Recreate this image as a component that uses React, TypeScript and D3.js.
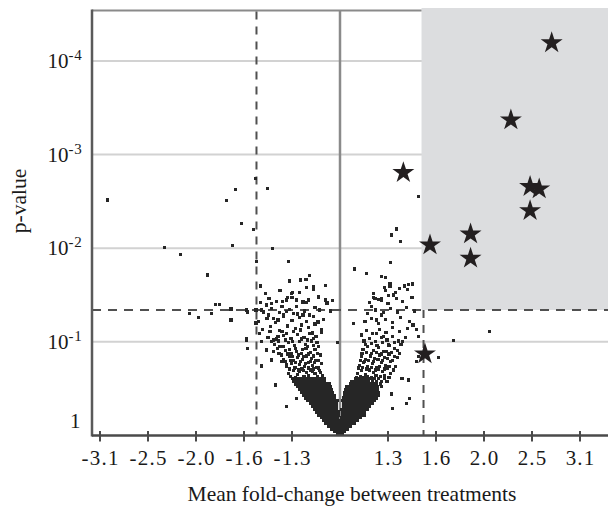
import React from "react";
import * as d3 from "d3";

// x positions are in "tick steps" of the fold-change axis (labels below)
const xTickPos = [-5, -4, -3, -2, -1, 1, 2, 3, 4, 5];
const xTickLabels = ["-3.1", "-2.5", "-2.0", "-1.6", "-1.3", "1.3", "1.6", "2.0", "2.5", "3.1"];
// y is -log10(p)
const yTickExp = [0, 1, 2, 3, 4];
const foldThreshold = 1.74;
const pThresholdNegLog = 1.341;

const starFold = [4.41, 3.56, 1.32, 3.96, 4.15, 3.96, 2.72, 1.875, 2.72, 1.77];
const starNegLogP = [4.193, 3.37, 2.807, 2.658, 2.633, 2.401, 2.152, 2.035, 1.893, 0.871];

const sparseFold = [
  -4.84, -2.36, -2.17, -2.06, -1.8, -1.76, -1.51, -3.66, -3.32, -2.24, -1.41, -2.76, -1.74, -1.08, -1.66,
  -0.83, -0.63, -0.56, -0.71, -0.99, -1.1, -3.13, -2.94, -2.68, -2.6, -2.51, -2.27, -2.27, -1.93, -1.94,
  -1.92, -1.63, -1.35, -1.11, -0.9, -0.65, -0.31,
  1.63, 1.18, 1.08, 1.26, 1.06, 0.31, 0.56, 0.87, 0.94, 1.04, 1.04, 0.92, 1.24, 1.35, 1.42, 1.51, 1.01,
  1.11, 0.69, 0.87, 3.11, 2.36, 2.05, 1.6, 1.63, 1.63, 1.6, 1.42, 1.29, 1.44, 1.39, 1.1, 1.08,
  -1.94, -1.75, -1.75, -1.63, -1.53, -1.42, -1.32, -1.21, -1.11, -1.01, -1.49, -1.39, -1.29, -1.18, -1.11,
  -0.97, -1.67, -1.63, -1.46, -1.39, -1.29, -1.21, -1.11, -0.97, -1.94, -1.53, -1.39, -1.25, -1.42, -1.21,
  -1.11, -0.9, -0.77, -0.88, -0.77, -0.63, -0.42, -0.27, -0.46, -0.38, -0.58, -0.83, -0.05,
  0.28, 0.45, 0.66, 0.87, 0.73, 0.87, 0.76, 0.9, 0.76,
];
const sparseNegLogP = [
  2.516, 2.509, 2.628, 2.267, 2.196, 2.748, 2.641, 2.009, 1.934, 2.028, 2.0, 1.715, 1.857, 1.862, 1.597,
  1.661, 1.709, 1.59, 1.669, 1.528, 1.472, 1.301, 1.263, 1.301, 1.402, 1.402, 1.351, 1.234, 1.319, 1.038,
  0.932, 0.743, 0.54, 0.308, 0.397, 1.448, 1.448,
  2.551, 2.206, 2.142, 2.071, 1.846, 1.779, 1.733, 1.697, 1.686, 1.626, 1.597, 1.583, 1.573, 1.597, 1.611,
  1.619, 1.494, 1.501, 1.472, 1.466, 1.109, 1.013, 0.835, 1.135, 1.058, 0.842, 0.788, 0.593, 0.611, 0.397,
  0.344, 0.291, 0.443,
  1.341, 1.341, 1.202, 1.341, 1.394, 1.412, 1.429, 1.376, 1.448, 1.519, 1.287, 1.252, 1.234, 1.287, 1.323,
  1.306, 1.092, 1.002, 1.109, 1.02, 1.056, 1.109, 1.092, 1.109, 1.02, 0.913, 0.895, 0.949, 0.807, 0.788,
  0.753, 1.448, 1.426, 1.298, 1.287, 1.287, 1.341, 1.416, 1.213, 1.127, 1.095, 1.127, 0.996,
  1.199, 1.074, 1.376, 1.448, 1.466, 1.287, 1.234, 1.056, 1.092,
];

// dense core of the volcano, listed row by row
const coreLevels = [
  0.01, 0.04, 0.07, 0.1, 0.13, 0.16, 0.19, 0.22, 0.25, 0.28, 0.31, 0.34, 0.37, 0.4, 0.43, 0.46, 0.49, 0.52,
  0.55, 0.58, 0.61,
];
const coreFoldRows = [
  [-0.06, -0.02, 0.02, 0.06],
  [-0.12, -0.08, -0.03, 0.02, 0.06, 0.1],
  [-0.18, -0.13, -0.08, -0.03, 0.02, 0.07, 0.12, 0.16],
  [-0.24, -0.19, -0.14, -0.09, -0.04, 0.01, 0.06, 0.11, 0.16, 0.21],
  [-0.29, -0.24, -0.19, -0.14, -0.09, -0.04, 0.01, 0.06, 0.11, 0.16, 0.21, 0.26, 0.3],
  [-0.34, -0.29, -0.24, -0.19, -0.14, -0.09, -0.04, 0.02, 0.07, 0.12, 0.17, 0.22, 0.27, 0.32, 0.37],
  [-0.39, -0.34, -0.29, -0.24, -0.19, -0.14, -0.09, -0.05, 0.03, 0.08, 0.13, 0.18, 0.23, 0.28, 0.33, 0.38, 0.43],
  [-0.44, -0.39, -0.34, -0.29, -0.24, -0.19, -0.14, -0.09, -0.04, 0.05, 0.1, 0.15, 0.2, 0.25, 0.3, 0.35, 0.4, 0.45, 0.5],
  [-0.48, -0.43, -0.38, -0.33, -0.28, -0.23, -0.18, -0.13, -0.08, -0.03, 0.06, 0.11, 0.16, 0.21, 0.26, 0.31, 0.36, 0.41, 0.46, 0.51],
  [-0.53, -0.48, -0.43, -0.38, -0.33, -0.28, -0.23, -0.18, -0.13, -0.08, 0.04, 0.09, 0.14, 0.19, 0.24, 0.29, 0.34, 0.39, 0.44, 0.49, 0.54, 0.58],
  [-0.58, -0.53, -0.48, -0.43, -0.38, -0.33, -0.28, -0.23, -0.18, -0.13, -0.08, 0.07, 0.12, 0.17, 0.22, 0.27, 0.32, 0.37, 0.42, 0.47, 0.52, 0.57, 0.62],
  [-0.62, -0.57, -0.52, -0.47, -0.42, -0.37, -0.32, -0.27, -0.22, -0.17, -0.12, -0.07, 0.08, 0.13, 0.18, 0.23, 0.28, 0.33, 0.38, 0.43, 0.48, 0.53, 0.58, 0.63, 0.68],
  [-0.67, -0.62, -0.57, -0.52, -0.47, -0.42, -0.37, -0.32, -0.27, -0.22, -0.17, -0.12, -0.06, 0.06, 0.11, 0.16, 0.21, 0.26, 0.31, 0.36, 0.41, 0.46, 0.51, 0.56, 0.61, 0.66, 0.72],
  [-0.71, -0.66, -0.61, -0.56, -0.51, -0.46, -0.41, -0.36, -0.31, -0.26, -0.21, -0.16, -0.11, 0.07, 0.12, 0.17, 0.22, 0.27, 0.32, 0.37, 0.42, 0.47, 0.52, 0.57, 0.62, 0.67, 0.72, 0.76],
  [-0.76, -0.71, -0.66, -0.61, -0.56, -0.51, -0.46, -0.41, -0.36, -0.31, -0.26, -0.21, -0.16, -0.12, 0.09, 0.14, 0.19, 0.24, 0.29, 0.34, 0.39, 0.44, 0.49, 0.54, 0.59, 0.64, 0.69, 0.74, 0.79],
  [-0.8, -0.75, -0.7, -0.65, -0.6, -0.55, -0.5, -0.45, -0.4, -0.35, -0.3, -0.25, -0.2, -0.15, 0.1, 0.15, 0.2, 0.25, 0.3, 0.35, 0.4, 0.45, 0.5, 0.55, 0.6, 0.65, 0.7, 0.75, 0.81],
  [-0.84, -0.79, -0.74, -0.69, -0.64, -0.59, -0.54, -0.49, -0.44, -0.39, -0.34, -0.29, -0.24, -0.18, 0.12, 0.17, 0.22, 0.27, 0.32, 0.37, 0.42, 0.47, 0.52, 0.57, 0.62, 0.67, 0.72, 0.78],
  [-0.88, -0.83, -0.78, -0.73, -0.68, -0.63, -0.58, -0.53, -0.48, -0.43, -0.38, -0.33, -0.28, -0.21, 0.14, 0.19, 0.24, 0.29, 0.34, 0.39, 0.44, 0.49, 0.54, 0.59, 0.64, 0.7, 0.77, 0.86],
  [-0.92, -0.87, -0.82, -0.77, -0.72, -0.67, -0.62, -0.57, -0.52, -0.47, -0.42, -0.37, -0.32, -0.27, -0.23, 0.22, 0.27, 0.32, 0.37, 0.42, 0.47, 0.52, 0.57, 0.62, 0.68, 0.75, 0.84],
  [-0.96, -0.91, -0.86, -0.81, -0.76, -0.71, -0.66, -0.61, -0.56, -0.51, -0.46, -0.41, -0.36, -0.32, 0.24, 0.29, 0.34, 0.39, 0.44, 0.49, 0.54, 0.6, 0.67, 0.76, 0.87, 0.98],
  [-0.99, -0.94, -0.89, -0.84, -0.79, -0.74, -0.69, -0.64, -0.59, -0.54, -0.49, -0.44, -0.39, -0.33, 0.33, 0.38, 0.43, 0.48, 0.53, 0.58, 0.64, 0.71, 0.8, 0.93],
];

// looser scatter on the two arms of the volcano
const armFold = [
  -1.08, -0.97, -0.88, -0.79, -0.7, -0.61, -0.52, -0.43, -0.36,
  -1.12, -1.01, -0.92, -0.84, -0.74, -0.66, -0.57, -0.48, -0.39,
  -1.18, -1.05, -0.97, -0.88, -0.78, -0.69, -0.6, -0.5, -0.41,
  -1.27, -1.13, -1.02, -0.9, -0.81, -0.71, -0.62, -0.52, -0.44,
  -1.36, -1.22, -1.08, -0.95, -0.84, -0.72, -0.6, -0.48,
  -1.5, -1.33, -1.17, -1.02, -0.88, -0.75, -0.63, -0.5, -0.38,
  -1.62, -1.44, -1.26, -1.1, -0.93, -0.8, -0.66, -0.52,
  -1.7, -1.52, -1.35, -1.18, -1.0, -0.85, -0.7, -0.55, -0.35,
  -1.6, -1.42, -1.26, -1.05, -0.9, -0.74, -0.52, -0.2,
  -1.66, -1.48, -1.2, -1.0, -0.7, -0.45, -0.15,
  -1.55, -1.25, -0.85, -0.55, -0.3, -1.05, -0.7,
  -1.03, -0.93, -0.84, -0.75, -0.66, -0.57, -0.47, -0.4,
  -1.06, -0.95, -0.86, -0.76, -0.65, -0.55, -0.45,
  -1.14, -1.03, -0.93, -0.82, -0.72, -0.62, -0.53, -0.44,
  -1.22, -1.1, -0.99, -0.86, -0.76, -0.66, -0.56, -0.47,
  -1.3, -1.17, -1.05, -0.93, -0.78, -0.67, -0.55,
  -1.42, -1.28, -1.13, -0.99, -0.8, -0.68, -0.56,
  0.36, 0.45, 0.53, 0.62, 0.7, 0.79, 0.88, 0.98, 1.06,
  0.4, 0.49, 0.58, 0.67, 0.76, 0.86, 0.95, 1.06, 1.16,
  0.44, 0.53, 0.63, 0.72, 0.82, 0.92, 1.02, 1.13, 1.24,
  0.48, 0.58, 0.69, 0.8, 0.91, 1.02, 1.14, 1.27,
  0.5, 0.62, 0.74, 0.86, 0.98, 1.1, 1.22, 1.36,
  0.55, 0.68, 0.82, 0.96, 1.1, 1.24, 1.4, 1.52,
  0.52, 0.66, 0.8, 0.95, 1.1, 1.26, 1.45,
  0.58, 0.74, 0.9, 1.06, 1.2, 1.38, 1.55,
  0.62, 0.8, 1.0, 1.18, 1.3, 1.5,
  0.7, 0.95, 1.15, 1.4,
  0.35, 0.42, 0.5, 0.58, 0.66, 0.75, 0.84, 0.93, 1.02,
  0.38, 0.47, 0.56, 0.65, 0.74, 0.83, 0.92, 1.02, 1.12,
  0.42, 0.51, 0.6, 0.7, 0.79, 0.89, 0.99, 1.09, 1.2,
  0.46, 0.56, 0.66, 0.76, 0.87, 0.97, 1.08, 1.19,
  0.53, 0.65, 0.77, 0.89, 1.01, 1.14, 1.3,
];
const armNegLogP = [
  0.66, 0.69, 0.65, 0.71, 0.67, 0.7, 0.66, 0.69, 0.64,
  0.74, 0.77, 0.73, 0.76, 0.74, 0.78, 0.75, 0.73, 0.77,
  0.81, 0.84, 0.8, 0.83, 0.81, 0.85, 0.82, 0.8, 0.86,
  0.88, 0.91, 0.87, 0.9, 0.88, 0.93, 0.89, 0.92, 0.95,
  0.97, 0.95, 0.99, 0.96, 1.0, 0.97, 1.01, 0.99,
  1.05, 1.03, 1.07, 1.04, 1.08, 1.05, 1.09, 1.06, 1.1,
  1.13, 1.16, 1.12, 1.17, 1.14, 1.18, 1.15, 1.19,
  1.22, 1.25, 1.21, 1.27, 1.23, 1.26, 1.22, 1.27, 1.24,
  1.32, 1.36, 1.31, 1.35, 1.38, 1.33, 1.37, 1.33,
  1.42, 1.46, 1.43, 1.47, 1.42, 1.48, 1.44,
  1.52, 1.55, 1.53, 1.56, 1.6, 1.65, 1.58,
  0.63, 0.62, 0.68, 0.63, 0.64, 0.68, 0.63, 0.67,
  0.71, 0.72, 0.7, 0.69, 0.72, 0.71, 0.72,
  0.79, 0.8, 0.78, 0.79, 0.77, 0.79, 0.78, 0.8,
  0.86, 0.87, 0.84, 0.86, 0.84, 0.87, 0.85, 0.88,
  0.93, 0.95, 0.92, 0.93, 0.92, 0.95, 0.96,
  1.0, 1.01, 1.02, 1.0, 1.03, 1.02, 1.04,
  0.66, 0.69, 0.65, 0.7, 0.67, 0.71, 0.68, 0.72, 0.66,
  0.75, 0.78, 0.74, 0.77, 0.73, 0.78, 0.75, 0.79, 0.74,
  0.84, 0.81, 0.85, 0.82, 0.86, 0.83, 0.87, 0.84, 0.88,
  0.92, 0.95, 0.91, 0.94, 0.9, 0.96, 0.93, 0.97,
  1.01, 1.04, 1.0, 1.05, 1.02, 1.06, 1.01, 1.05,
  1.12, 1.09, 1.13, 1.1, 1.15, 1.11, 1.14, 1.18,
  1.22, 1.25, 1.2, 1.24, 1.21, 1.26, 1.22,
  1.3, 1.34, 1.31, 1.36, 1.32, 1.37, 1.33,
  1.42, 1.45, 1.41, 1.46, 1.43, 1.47,
  1.52, 1.55, 1.53, 1.56,
  0.62, 0.63, 0.62, 0.63, 0.62, 0.64, 0.63, 0.64, 0.62,
  0.72, 0.73, 0.71, 0.73, 0.7, 0.74, 0.71, 0.74, 0.7,
  0.8, 0.79, 0.8, 0.79, 0.81, 0.8, 0.82, 0.8, 0.83,
  0.88, 0.89, 0.88, 0.89, 0.87, 0.9, 0.89, 0.91,
  0.97, 0.98, 0.96, 0.99, 0.97, 0.99, 1.0,
];

const W = 608;
const H = 508;
const FONT = "'Liberation Serif', 'Times New Roman', serif";

export default function App() {
  const left = 92;
  const right = 608;
  const top = 9.5;
  const bottom = 435.5;
  const x = d3.scaleLinear().domain([-5.1667, 5.5833]).range([left, right]);
  const y = d3.scaleLinear().domain([0, 4.55]).range([bottom, top]);

  const dots: [number, number][] = [];
  coreLevels.forEach((lv, i) => coreFoldRows[i].forEach((u) => dots.push([u, lv])));
  armFold.forEach((u, i) => dots.push([u, armNegLogP[i]]));
  sparseFold.forEach((u, i) => dots.push([u, sparseNegLogP[i]]));

  const star = d3.symbol().type(d3.symbolStar).size(150)();
  const xr = x(foldThreshold);
  const xl = x(-foldThreshold);
  const yt = y(pThresholdNegLog);
  const ds = 3.2;

  return (
    <div style={{ position: "fixed", left: 0, top: 0 }}>
      <svg width={W} height={H} style={{ display: "block", background: "#fff" }}>
        {yTickExp.filter((e) => e > 0).map((e) => (
          <line key={e} x1={left} x2={right} y1={y(e)} y2={y(e)} stroke="#d2d2d2" strokeWidth={2} />
        ))}
        <rect x={xr - 2} y={top - 1.5} width={right - xr + 2} height={yt - top + 1.5} fill="#dcdddf" />
        <line x1={left} x2={xr - 2} y1={top + 1} y2={top + 1} stroke="#8a8a8a" strokeWidth={2} />
        <line x1={x(0)} x2={x(0)} y1={top + 1} y2={bottom} stroke="#8a8a8a" strokeWidth={2.5} />
        <line x1={xl} x2={xl} y1={top + 2} y2={bottom} stroke="#505050" strokeWidth={2} strokeDasharray="8,7" />
        <line x1={xr} x2={xr} y1={yt} y2={bottom} stroke="#505050" strokeWidth={2} strokeDasharray="8,7" />
        <line x1={left} x2={right} y1={yt} y2={yt} stroke="#505050" strokeWidth={2} strokeDasharray="9,7" />
        <g fill="#262626" shapeRendering="crispEdges">
          {dots.map(([u, v], i) => (
            <rect key={i} x={x(u) - ds / 2} y={y(v) - ds / 2} width={ds} height={ds} />
          ))}
        </g>
        <g fill="#231f20">
          {starFold.map((u, i) => (
            <path key={i} d={star || ""} transform={`translate(${x(u)},${y(starNegLogP[i])})`} />
          ))}
        </g>
        <line x1={left} x2={left} y1={top} y2={bottom + 1} stroke="#5a5a5a" strokeWidth={2.5} />
        <line x1={left} x2={right} y1={bottom} y2={bottom} stroke="#4a4a4a" strokeWidth={2.5} />
        {xTickPos.map((t, i) => (
          <g key={t}>
            <line x1={x(t)} x2={x(t)} y1={bottom - 4.5} y2={bottom + 6} stroke="#4a4a4a" strokeWidth={2} />
            <text x={x(t) + 0.6} y={465} textAnchor="middle" fontFamily={FONT} fontSize={21} letterSpacing={1.2} fill="#1a1a1a">
              {xTickLabels[i]}
            </text>
          </g>
        ))}
        {yTickExp.map((e) =>
          e === 0 ? (
            <text key={e} x={70} y={y(e) - 7.5} fontFamily={FONT} fontSize={21} fill="#1a1a1a">
              1
            </text>
          ) : (
            <text key={e} x={47.5} y={y(e) + 7} fontFamily={FONT} fontSize={21} fill="#1a1a1a">
              10
              <tspan fontSize={15} dy={-8} letterSpacing={0.8}>{`-${e}`}</tspan>
            </text>
          )
        )}
        <text
          transform="translate(26,201) rotate(-90)"
          textAnchor="middle"
          fontFamily={FONT}
          fontSize={21.5}
          fill="#1a1a1a"
        >
          p-value
        </text>
        <text x={352} y={501} textAnchor="middle" fontFamily={FONT} fontSize={21.5} fill="#1a1a1a">
          Mean fold-change between treatments
        </text>
      </svg>
    </div>
  );
}
